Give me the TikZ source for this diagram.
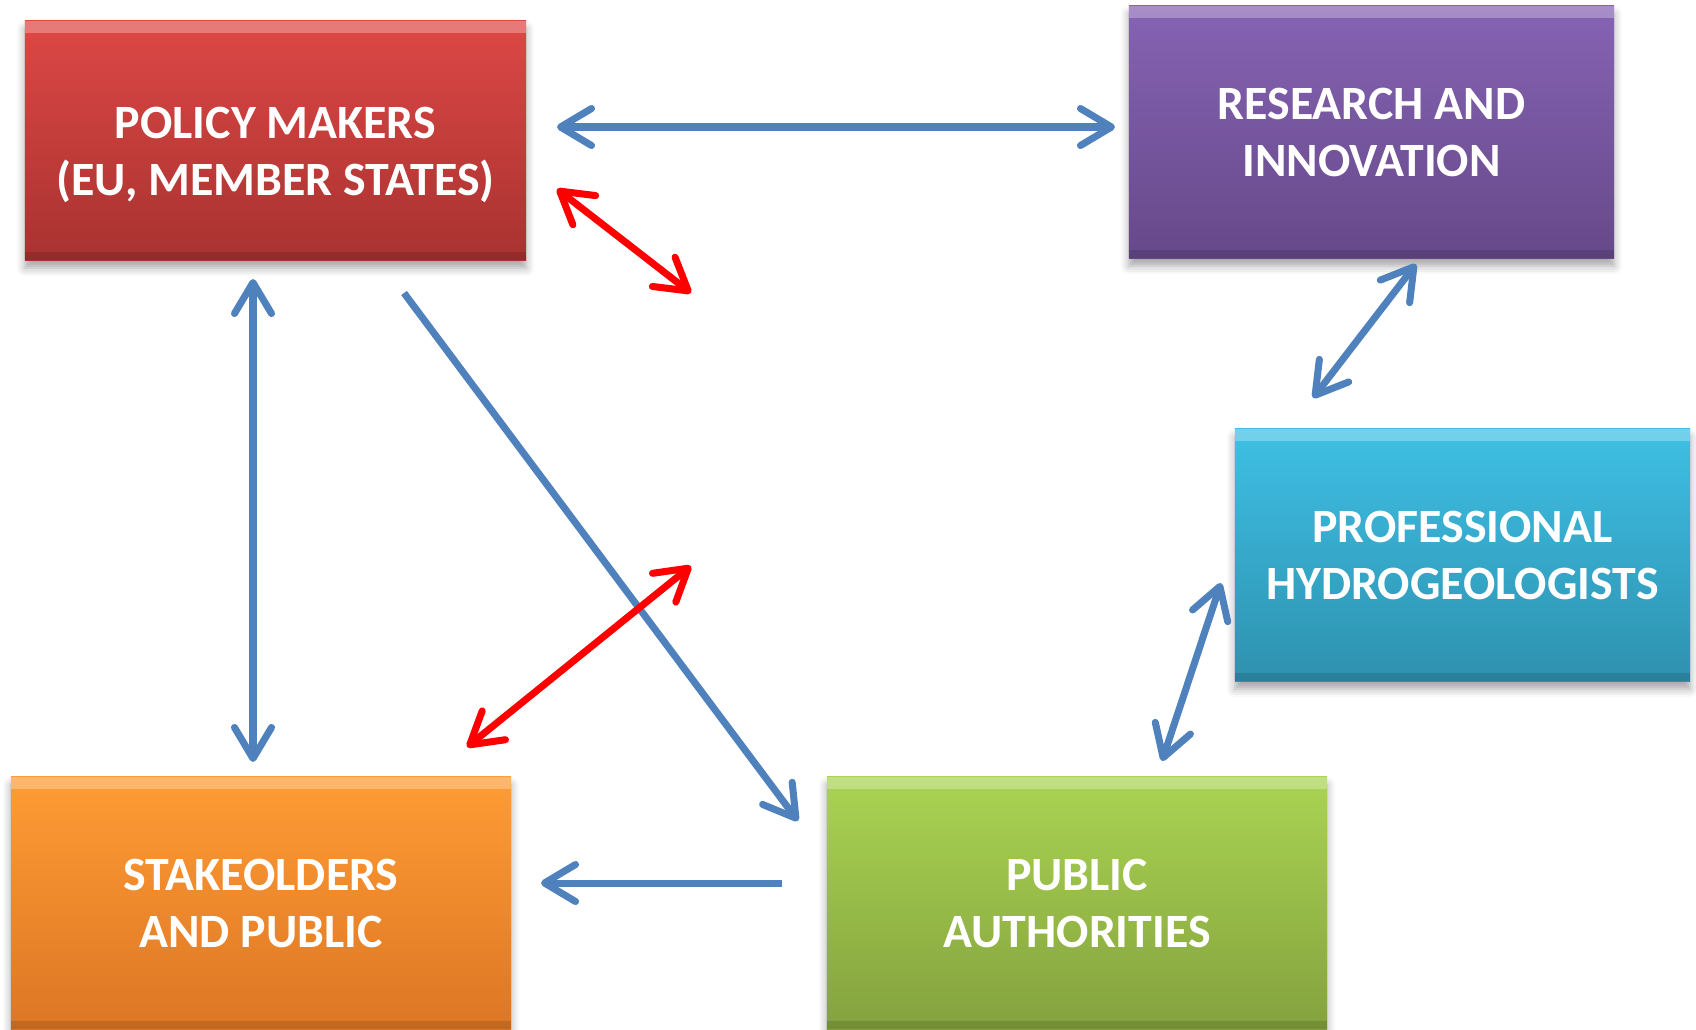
\documentclass[tikz,border=0pt]{standalone}
\usepackage{fontspec}
\setmainfont{Carlito}
\usetikzlibrary{arrows.meta,shadows.blur}

\definecolor{linkblue}{RGB}{79,129,189}
\definecolor{linkred}{RGB}{255,0,0}

\begin{document}
\begin{tikzpicture}[x=0.01cm,y=-0.01cm,
    twoway/.style={{Straight Barb[length=3.1mm,width=3.7mm,round]}-{Straight Barb[length=3.1mm,width=3.7mm,round]}},
    oneway/.style={-{Straight Barb[length=3.1mm,width=3.7mm,round]}},
    bevel/.style={path picture={
        \fill[white,opacity=.28] (path picture bounding box.north west) rectangle ([yshift=-1.2mm]path picture bounding box.north east);
        \fill[black,opacity=.12] (path picture bounding box.south west) rectangle ([yshift=.8mm]path picture bounding box.south east);}}]

      \useasboundingbox (0,0) rectangle (1696,1029);

      \begin{scope}[every node/.style={rectangle, bevel, text=white, align=center,
          font=\bfseries\fontsize{13.6}{16.2}\selectfont,
          blur shadow={shadow xshift=0mm, shadow yshift=-.8mm, shadow blur radius=.8mm, shadow opacity=35}}]
        \node[minimum width=5.01cm, minimum height=2.39cm, top color={rgb,255:red,221;green,72;blue,69}, bottom color={rgb,255:red,168;green,50;blue,48}] (policy) at (275.5,140.5) {\rule{0pt}{6mm}POLICY MAKERS\\(EU, MEMBER STATES)};
        \node[minimum width=4.85cm, minimum height=2.52cm, top color={rgb,255:red,134;green,99;blue,180}, bottom color={rgb,255:red,102;green,73;blue,137}] (research) at (1371.5,132) {RESEARCH AND\\INNOVATION};
        \node[minimum width=4.55cm, minimum height=2.52cm, top color={rgb,255:red,62;green,192;blue,229}, bottom color={rgb,255:red,46;green,145;blue,175}] (hydro) at (1462.5,555) {PROFESSIONAL\\HYDROGEOLOGISTS};
        \node[minimum width=5cm, minimum height=2.52cm, top color={rgb,255:red,255;green,156;blue,52}, bottom color={rgb,255:red,220;green,118;blue,36}] (public) at (261,903) {STAKEOLDERS\\AND PUBLIC};
        \node[minimum width=5cm, minimum height=2.52cm, top color={rgb,255:red,170;green,212;blue,82}, bottom color={rgb,255:red,132;green,162;blue,62}] (authority) at (1077,903) {PUBLIC\\AUTHORITIES};
      \end{scope}

      % arrow ends
      \coordinate (pr1) at (557,127);
      \coordinate (pr2) at (1115,127);
      \coordinate (ps1) at (253,279);
      \coordinate (ps2) at (253,762);
      \coordinate (pa1) at (404,293);
      \coordinate (pa2) at (798,821);
      \coordinate (as1) at (782,883);
      \coordinate (as2) at (541,883);
      \coordinate (rh1) at (1416,264);
      \coordinate (rh2) at (1313,398);
      \coordinate (ha1) at (1221,583);
      \coordinate (ha2) at (1162,761);
      \coordinate (x1)  at (557,189);
      \coordinate (x2)  at (691,293);
      \coordinate (y1)  at (467,747);
      \coordinate (y2)  at (691,566);

      \begin{scope}[every edge/.style={draw, line width=2pt}]
        \path (pr1) edge[twoway, draw=linkblue] (pr2);
        \path (ps1) edge[twoway, draw=linkblue] (ps2);
        \path (pa1) edge[oneway, draw=linkblue] (pa2);
        \path (as1) edge[oneway, draw=linkblue] (as2);
        \path (rh1) edge[twoway, draw=linkblue] (rh2);
        \path (ha1) edge[twoway, draw=linkblue] (ha2);
        \path (x1)  edge[twoway, draw=linkred] (x2);
        \path (y1)  edge[twoway, draw=linkred] (y2);
      \end{scope}

    \end{tikzpicture}
\end{document}
